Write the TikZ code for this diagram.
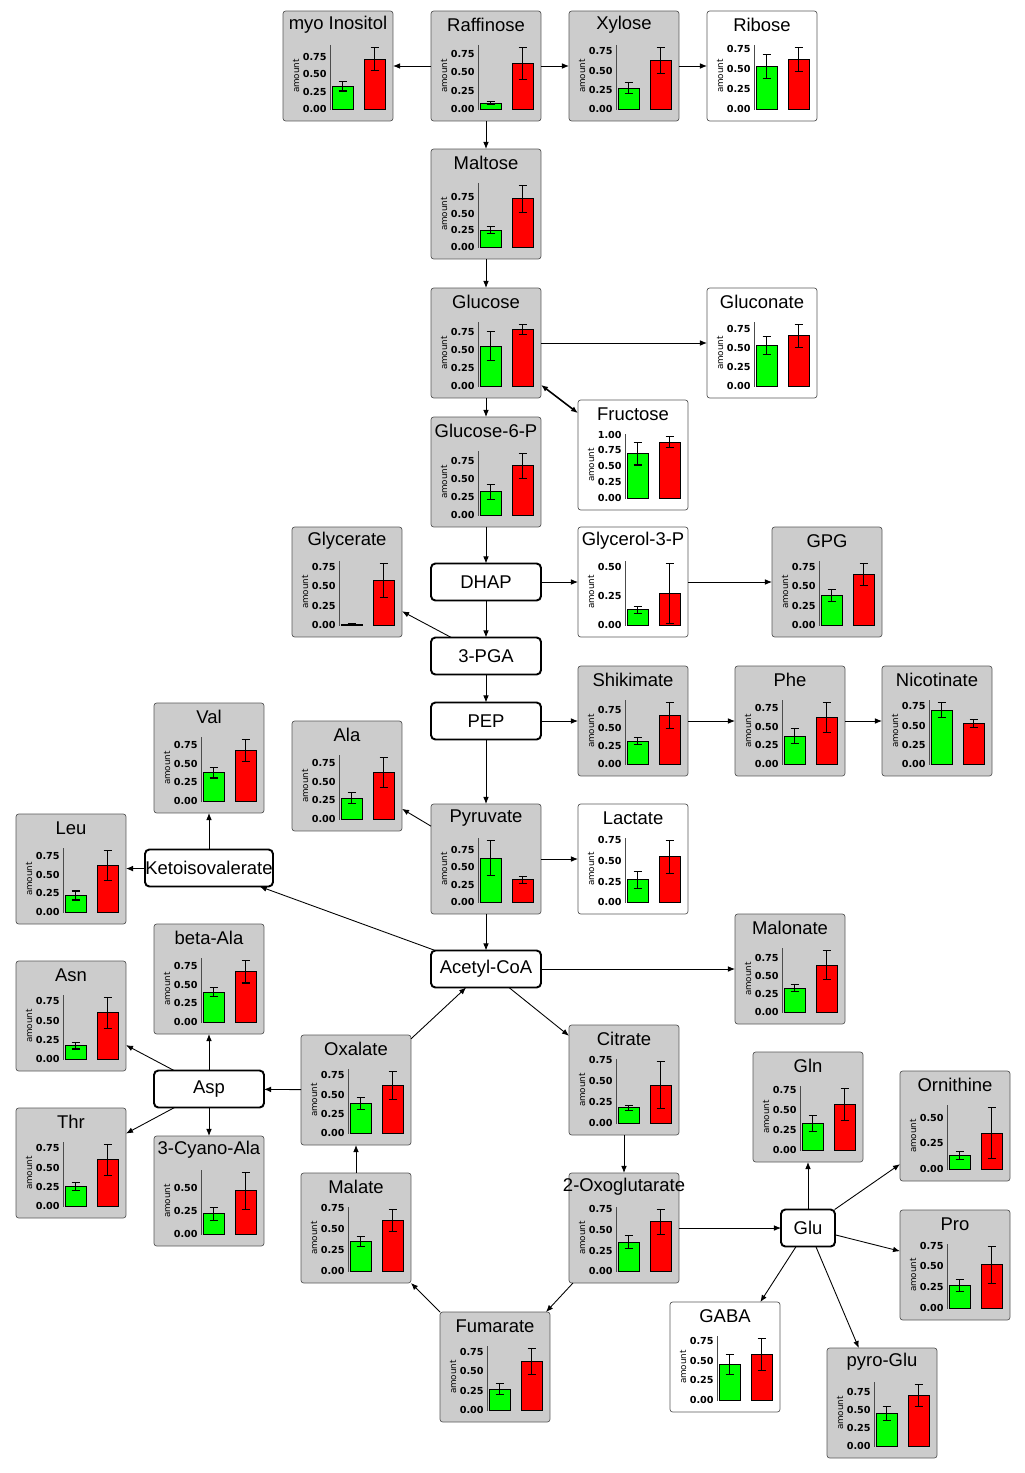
\documentclass[tikz,border=0pt]{standalone}
\usepackage{fontspec}
\setmainfont{Liberation Sans}
\newfontfamily\tickfont{DejaVu Sans}
\usetikzlibrary{arrows.meta}

\tikzset{
  chartbox/.style={draw=gray!70!black,rounded corners=1.5pt,inner sep=0pt,outer sep=0pt,
    minimum width=2.2cm,minimum height=2.2cm},
  stepbox/.style={draw,line width=1.1pt,rounded corners=2.5pt,fill=white,inner sep=0pt,outer sep=0pt,
    minimum width=2.2cm,minimum height=0.74cm,font=\fontsize{10.5}{12}\selectfont},
  charttitle/.style={inner sep=0pt,font=\fontsize{10.5}{12}\selectfont},
  amountlabel/.style={rotate=90,inner sep=0pt,font=\tickfont\fontsize{5}{6}\selectfont},
  ticklabel/.style={anchor=east,inner sep=0pt,font=\tickfont\bfseries\fontsize{5.5}{6}\selectfont},
  axisline/.style={draw=gray!60!black,line width=0.5pt},
  barline/.style={draw=black,line width=0.5pt},
  errline/.style={line width=0.6pt},
  edge/.style={-{Latex[length=4pt,width=3.2pt]},line width=0.5pt}
}

% error bar: x, value, error
\newcommand\errbar[3]{%
  \draw[errline] ({#1-4},{43-(#2-#3)*\chartscale}) -- ++(8,0)
    ({#1},{43-(#2-#3)*\chartscale}) -- ({#1},{43-(#2+#3)*\chartscale})
    ({#1-4},{43-(#2+#3)*\chartscale}) -- ++(8,0);}

% chart box: [fill] name, centre, title, green, green err, red, red err
\newcommand\chart[8][gray!40]{%
  \node[chartbox,fill=#1] (#2) at (#3) {};
  \begin{scope}[shift={(#2.center)}]
    \pgfmathsetmacro\chartmax{1.04*max(#5+#6,#7+#8)}
    \pgfmathsetmacro\chartscale{64/\chartmax}
    \node[charttitle] at (0,-41) {#4};
    \node[amountlabel] at (-42,10) {amount};
    \draw[axisline] (-8,-21) -- (-8,44);
    \foreach \t in {0,0.25,0.5,0.75,1}{%
      \ifdim\t pt>\chartmax pt\else
        \node[ticklabel] at (-11,{43-\t*\chartscale})
          {\pgfmathprintnumber[fixed,fixed zerofill,precision=2,assume math mode=true]{\t}};
      \fi}
    \draw[barline,fill=green] (-6,43) rectangle (15,{43-#5*\chartscale});
    \draw[barline,fill=red] (26,43) rectangle (47,{43-#7*\chartscale});
    \errbar{4.5}{#5}{#6}
    \errbar{36.5}{#7}{#8}
  \end{scope}}

\begin{document}
\begin{tikzpicture}[x=0.02cm,y=-0.02cm]
\useasboundingbox (0,0) rectangle (1024,1473);
%
\chart{myo}{338,66}{myo Inositol}{0.33}{0.07}{0.72}{0.17}
\chart{raf}{486,66}{Raffinose}{0.08}{0.02}{0.62}{0.22}
\chart{xyl}{624,66}{Xylose}{0.27}{0.07}{0.63}{0.17}
\chart[white]{rib}{762,66}{Ribose}{0.53}{0.15}{0.62}{0.15}
\chart{mal}{486,204}{Maltose}{0.25}{0.05}{0.72}{0.2}
\chart{glc}{486,343}{Glucose}{0.55}{0.2}{0.78}{0.07}
\chart[white]{gla}{762,343}{Gluconate}{0.53}{0.12}{0.66}{0.15}
\chart[white]{fru}{633,455}{Fructose}{0.7}{0.18}{0.88}{0.09}
\chart{g6p}{486,472}{Glucose-6-P}{0.32}{0.1}{0.68}{0.17}
\chart{gly}{347,582}{Glycerate}{0.01}{0.005}{0.57}{0.22}
\chart[white]{g3p}{633,582}{Glycerol-3-P}{0.13}{0.03}{0.27}{0.26}
\chart{gpg}{827,582}{GPG}{0.38}{0.08}{0.65}{0.14}
\chart{shi}{633,721}{Shikimate}{0.32}{0.05}{0.68}{0.18}
\chart{phe}{790,721}{Phe}{0.37}{0.1}{0.62}{0.2}
\chart{nic}{937,721}{Nicotinate}{0.7}{0.1}{0.53}{0.05}
\chart{val}{209,758}{Val}{0.38}{0.07}{0.68}{0.15}
\chart{ala}{347,776}{Ala}{0.28}{0.07}{0.62}{0.2}
\chart{leu}{71,869}{Leu}{0.22}{0.06}{0.62}{0.2}
\chart{pyr}{486,859}{Pyruvate}{0.63}{0.25}{0.32}{0.05}
\chart[white]{lac}{633,859}{Lactate}{0.27}{0.1}{0.55}{0.2}
\chart{mlo}{790,969}{Malonate}{0.33}{0.05}{0.65}{0.2}
\chart{bala}{209,979}{beta-Ala}{0.4}{0.06}{0.67}{0.15}
\chart{asn}{71,1016}{Asn}{0.17}{0.04}{0.6}{0.2}
\chart{oxa}{356,1090}{Oxalate}{0.38}{0.08}{0.62}{0.18}
\chart{cit}{624,1080}{Citrate}{0.18}{0.03}{0.45}{0.28}
\chart{gln}{808,1107}{Gln}{0.33}{0.1}{0.57}{0.2}
\chart{orn}{955,1126}{Ornithine}{0.13}{0.04}{0.35}{0.25}
\chart{thr}{71,1163}{Thr}{0.25}{0.05}{0.6}{0.2}
\chart{cya}{209,1191}{3-Cyano-Ala}{0.22}{0.07}{0.47}{0.2}
\chart{mla}{356,1228}{Malate}{0.35}{0.06}{0.6}{0.13}
\chart{oxo}{624,1228}{2-Oxoglutarate}{0.35}{0.08}{0.6}{0.15}
\chart{pro}{955,1265}{Pro}{0.27}{0.07}{0.52}{0.22}
\chart[white]{gab}{725,1357}{GABA}{0.45}{0.13}{0.58}{0.2}
\chart{fum}{495,1367}{Fumarate}{0.27}{0.07}{0.62}{0.17}
\chart{pgl}{882,1403}{pyro-Glu}{0.45}{0.1}{0.7}{0.15}
%
\node[stepbox] (dhap) at (486,582) {DHAP};
\node[stepbox] (pga) at (486,656) {3-PGA};
\node[stepbox] (pep) at (486,721) {PEP};
\node[stepbox,minimum width=2.56cm] (kiv) at (209,868) {Ketoisovalerate};
\node[stepbox] (aco) at (486,969) {Acetyl-CoA};
\node[stepbox] (asp) at (209,1089) {Asp};
\node[stepbox,minimum width=1.08cm] (glu) at (808,1228) {Glu};
%
\draw[edge] (raf) -- (myo);
\draw[edge] (raf) -- (xyl);
\draw[edge] (xyl) -- (rib);
\draw[edge] (raf) -- (mal);
\draw[edge] (mal) -- (glc);
\draw[edge] (glc) -- (gla);
\draw[edge,{Latex[length=4pt,width=3.2pt]}-{Latex[length=4pt,width=3.2pt]},line width=0.9pt] (glc) -- (fru);
\draw[edge] (glc) -- (g6p);
\draw[edge] (g6p) -- (dhap);
\draw[edge] (dhap) -- (g3p);
\draw[edge] (g3p) -- (gpg);
\draw[edge] (dhap) -- (pga);
\draw[edge] (pga) -- (gly);
\draw[edge] (pga) -- (pep);
\draw[edge] (pep) -- (shi);
\draw[edge] (shi) -- (phe);
\draw[edge] (phe) -- (nic);
\draw[edge] (pep) -- (pyr);
\draw[edge] (pyr) -- (ala);
\draw[edge] (pyr) -- (lac);
\draw[edge] (pyr) -- (aco);
\draw[edge] (aco) -- (kiv);
\draw[edge] (kiv) -- (val);
\draw[edge] (kiv) -- (leu);
\draw[edge] (aco) -- (mlo);
\draw[edge] (aco) -- (cit);
\draw[edge] (oxa) -- (aco);
\draw[edge] (oxa) -- (asp);
\draw[edge] (asp) -- (bala);
\draw[edge] (asp) -- (asn);
\draw[edge] (asp) -- (thr);
\draw[edge] (asp) -- (cya);
\draw[edge] (mla) -- (oxa);
\draw[edge] (fum) -- (mla);
\draw[edge] (oxo) -- (fum);
\draw[edge] (cit) -- (oxo);
\draw[edge] (oxo) -- (glu);
\draw[edge] (glu) -- (gln);
\draw[edge] (glu) -- (orn);
\draw[edge] (glu) -- (pro);
\draw[edge] (glu) -- (gab);
\draw[edge] (glu) -- (pgl);
\end{tikzpicture}
\end{document}
